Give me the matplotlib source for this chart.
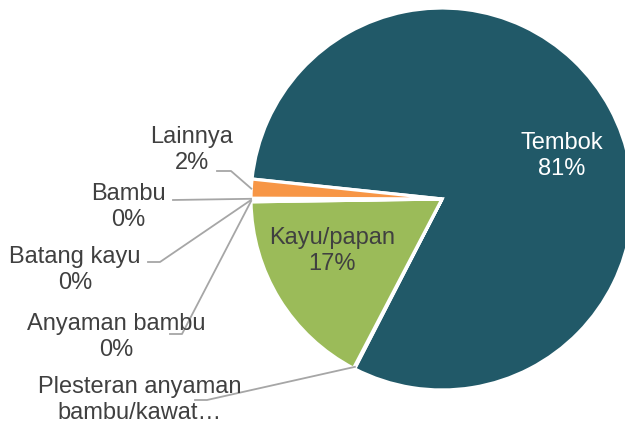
import matplotlib
matplotlib.use("Agg")
import matplotlib.pyplot as plt
import numpy as np

# Data (0% slices are tiny)
categories = ["Tembok", "Plesteran anyaman\nbambu/kawat…", "Kayu/papan",
              "Anyaman bambu", "Batang kayu", "Bambu", "Lainnya"]
values = [80.9, 0.1, 17.1, 0.1, 0.1, 0.1, 1.6]
pct_labels = ["81%", "0%", "17%", "0%", "0%", "0%", "2%"]
colors = ["#215968", "#4BACC6", "#9BBB59", "#8064A2", "#C0504D", "#4F81BD", "#F79646"]

W, H = 625, 426
CX, CY, R = 442, 199, 191

plt.rcParams['font.family'] = ['Liberation Sans', 'DejaVu Sans']

fig = plt.figure(figsize=(W / 100, H / 100), dpi=100)
ax = fig.add_axes([0, 0, 1, 1])

wedges, _ = ax.pie(values, colors=colors, startangle=174, counterclock=False,
                   radius=1.0, wedgeprops=dict(edgecolor="white", linewidth=2.3))

ax.set_xlim(-CX / R, (W - CX) / R)
ax.set_ylim(-(H - CY) / R, CY / R)
ax.axis("off")


def px(x, y):
    # pixel position -> data coordinates
    return (x - CX) / R, (CY - y) / R


def anchor(w, r=1.0):
    a = np.deg2rad((w.theta1 + w.theta2) / 2)
    return r * np.cos(a), r * np.sin(a)


txt = "#404040"
fs = 17
ls = 1.2

# inside labels
inside = {0: ((562, 156), "white"), 2: ((332, 251), txt)}
for i, (pos, c) in inside.items():
    x, y = px(*pos)
    ax.text(x, y, f"{categories[i]}\n{pct_labels[i]}", ha="center", va="center",
            color=c, fontsize=fs, linespacing=ls)

# outside labels with leader lines: label center, leader start, elbow
outside = {
    6: ((192, 150), (217, 171), (231, 171)),
    5: ((128, 207), (173, 200), None),
    4: ((75, 270), (148, 262), (160, 262)),
    3: ((116, 337), (170, 334), (182, 334)),
    1: ((140, 400), (195, 400), (207, 400)),
}
for i, (lab, start, elbow) in outside.items():
    x, y = px(*lab)
    if i == 1:
        text = f"{categories[i]}"
    else:
        text = f"{categories[i]}\n{pct_labels[i]}"
    ax.text(x, y, text, ha="center", va="center", color=txt, fontsize=fs,
            linespacing=ls, zorder=3)
    pts = [px(*start)]
    if elbow is not None:
        pts.append(px(*elbow))
    if i == 1:
        pts.append(anchor(wedges[i], 0.99))
    else:
        pts.append(anchor(wedges[i], 1.0))
    pts = np.array(pts)
    ax.plot(pts[:, 0], pts[:, 1], color="#A6A6A6", lw=1.3, zorder=2)

fig.savefig("out.png", dpi=100)
